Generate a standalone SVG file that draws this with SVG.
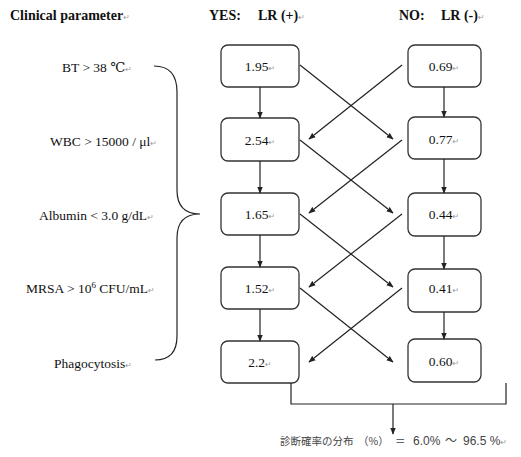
<svg xmlns="http://www.w3.org/2000/svg" width="521" height="457" viewBox="0 0 521 457">
<defs>
<style>
.bg{fill:#fff}
.box{fill:#fff;stroke:#333;stroke-width:1.3}
.lbl{font-family:"Liberation Serif","DejaVu Serif",serif;font-size:13.5px;fill:#111}
.num{font-family:"Liberation Serif","DejaVu Serif",serif;font-size:13.5px;fill:#111;text-anchor:middle}
.hd{font-family:"Liberation Serif","DejaVu Serif",serif;font-size:14px;font-weight:bold;fill:#111}
.pm{font-family:"DejaVu Sans",sans-serif;font-size:8px;fill:#999;font-weight:normal}
.ln{fill:none;stroke:#222;stroke-width:1.2}
.res{font-family:"Liberation Sans","Noto Sans CJK JP",sans-serif;font-size:12px;fill:#444}
.cjk{font-family:"Noto Sans CJK JP",sans-serif;font-size:10.5px;fill:#444}
</style>
<marker id="ah" viewBox="0 0 10 10" refX="9" refY="5" markerWidth="7" markerHeight="7" orient="auto" markerUnits="userSpaceOnUse">
<path d="M0,1 L10,5 L0,9 z" fill="#222"/>
</marker>
</defs>
<rect class="bg" width="521" height="457"/>

<g id="headers">
<text class="hd" x="10" y="20">Clinical parameter<tspan class="pm">↵</tspan></text>
<text class="hd" x="209" y="20">YES:</text>
<text class="hd" x="258" y="20">LR (+)<tspan class="pm">↵</tspan></text>
<text class="hd" x="399" y="20">NO:</text>
<text class="hd" x="441" y="20">LR (-)<tspan class="pm">↵</tspan></text>
</g>

<g id="params">
<text class="lbl" x="62" y="72">BT &gt; 38 ℃<tspan class="pm">↵</tspan></text>
<text class="lbl" x="50" y="146">WBC &gt; 15000 / μl<tspan class="pm">↵</tspan></text>
<text class="lbl" x="39" y="220">Albumin &lt; 3.0 g/dL<tspan class="pm">↵</tspan></text>
<text class="lbl" x="26" y="293">MRSA &gt; 10<tspan font-size="9" dy="-5">6</tspan><tspan dy="5"> CFU/mL</tspan><tspan class="pm">↵</tspan></text>
<text class="lbl" x="54" y="368">Phagocytosis<tspan class="pm">↵</tspan></text>
</g>

<g id="brace">
<path class="ln" d="M154,66 Q177,66 177,92 L177,190 Q177,214 200,214 Q177,214 177,238 L177,336 Q177,360 155,360"/>
</g>

<g id="yes1"><rect class="box" x="221" y="45" width="78" height="42" rx="7"/><text class="num" x="260" y="71">1.95<tspan class="pm">↵</tspan></text></g>
<g id="yes2"><rect class="box" x="221" y="118" width="78" height="43" rx="7"/><text class="num" x="260" y="145">2.54<tspan class="pm">↵</tspan></text></g>
<g id="yes3"><rect class="box" x="221" y="193" width="78" height="42" rx="7"/><text class="num" x="260" y="219">1.65<tspan class="pm">↵</tspan></text></g>
<g id="yes4"><rect class="box" x="221" y="267" width="78" height="42" rx="7"/><text class="num" x="260" y="293">1.52<tspan class="pm">↵</tspan></text></g>
<g id="yes5"><rect class="box" x="221" y="341" width="78" height="42" rx="7"/><text class="num" x="260" y="367">2.2<tspan class="pm">↵</tspan></text></g>

<g id="no1"><rect class="box" x="408" y="45" width="73" height="42" rx="7"/><text class="num" x="444" y="71">0.69<tspan class="pm">↵</tspan></text></g>
<g id="no2"><rect class="box" x="408" y="117" width="73" height="42" rx="7"/><text class="num" x="444" y="144">0.77<tspan class="pm">↵</tspan></text></g>
<g id="no3"><rect class="box" x="408" y="193" width="73" height="43" rx="7"/><text class="num" x="444" y="219">0.44<tspan class="pm">↵</tspan></text></g>
<g id="no4"><rect class="box" x="408" y="269" width="73" height="43" rx="7"/><text class="num" x="444" y="293">0.41<tspan class="pm">↵</tspan></text></g>
<g id="no5"><rect class="box" x="408" y="339" width="73" height="43" rx="7"/><text class="num" x="444" y="366">0.60<tspan class="pm">↵</tspan></text></g>

<g id="connectors">
<line class="ln" x1="260" y1="87" x2="260" y2="118" marker-end="url(#ah)"/>
<line class="ln" x1="260" y1="161" x2="260" y2="193" marker-end="url(#ah)"/>
<line class="ln" x1="260" y1="235" x2="260" y2="267" marker-end="url(#ah)"/>
<line class="ln" x1="260" y1="309" x2="260" y2="341" marker-end="url(#ah)"/>
<line class="ln" x1="444" y1="87" x2="444" y2="117" marker-end="url(#ah)"/>
<line class="ln" x1="444" y1="159" x2="444" y2="193" marker-end="url(#ah)"/>
<line class="ln" x1="444" y1="236" x2="444" y2="269" marker-end="url(#ah)"/>
<line class="ln" x1="444" y1="312" x2="444" y2="339" marker-end="url(#ah)"/>

<line class="ln" x1="300" y1="65" x2="393" y2="139" marker-end="url(#ah)"/>
<line class="ln" x1="402" y1="65" x2="309" y2="139" marker-end="url(#ah)"/>
<line class="ln" x1="300" y1="140" x2="393" y2="213" marker-end="url(#ah)"/>
<line class="ln" x1="402" y1="140" x2="309" y2="213" marker-end="url(#ah)"/>
<line class="ln" x1="300" y1="214" x2="393" y2="287" marker-end="url(#ah)"/>
<line class="ln" x1="402" y1="214" x2="309" y2="287" marker-end="url(#ah)"/>
<line class="ln" x1="300" y1="288" x2="393" y2="362" marker-end="url(#ah)"/>
<line class="ln" x1="402" y1="288" x2="309" y2="362" marker-end="url(#ah)"/>

<path class="ln" d="M291,383 L291,404 L506,404 L506,383"/>
<line class="ln" x1="393" y1="404" x2="393" y2="434" marker-end="url(#ah)"/>
</g>

<g id="result">
<text class="cjk" x="280" y="445">診断確率の分布<tspan x="358">（%）</tspan><tspan x="395">＝</tspan></text>
<text class="res" x="413" y="445">6.0%<tspan x="445">～</tspan><tspan x="463">96.5 %</tspan><tspan class="pm">↵</tspan></text>
</g>
</svg>
